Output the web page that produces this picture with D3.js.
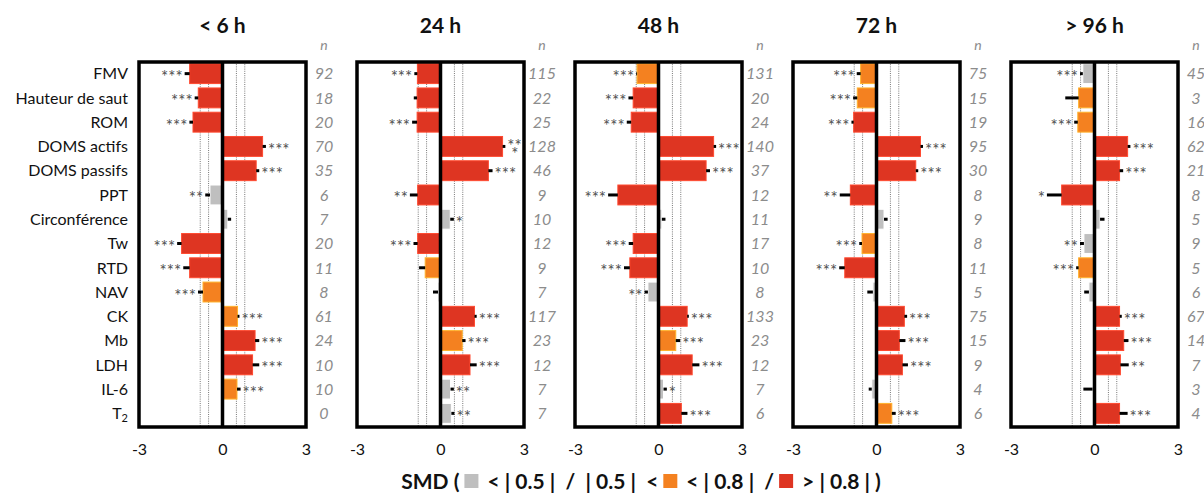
<!DOCTYPE html>
<html>
<head>
<meta charset="utf-8">
<script src="https://cdn.jsdelivr.net/npm/d3@7"></script>
<style>
  body { margin: 0; background: #fff; }
  svg { font-family: Lato, "Open Sans", sans-serif; }
</style>
</head>
<body>
<svg id="chart" width="1204" height="496"></svg>
<script>
// categories (rows) and time points (panels)
var categories = ["FMV", "Hauteur de saut", "ROM", "DOMS actifs", "DOMS passifs", "PPT", "Circonférence",
                  "Tw", "RTD", "NAV", "CK", "Mb", "LDH", "IL-6", "T2"];
var timepoints = ["< 6 h", "24 h", "48 h", "72 h", "> 96 h"];
var xTicks = [-3, 0, 3];
var guideLines = [-0.8, -0.5, 0.5, 0.8];

// SMD values, outer end of the error bar, significance stars and n, per time point
var smd6h   = [-1.18, -0.87, -1.06, 1.44, 1.21, -0.45, 0.19, -1.47, -1.18, -0.70, 0.54, 1.17, 1.08, 0.52, null];
var err6h   = [-1.36, -1.00, -1.19, 1.56, 1.32, -0.62, 0.31, -1.63, -1.41, -0.88, 0.61, 1.32, 1.32, 0.65, null];
var stars6h = ["***", "***", "***", "***", "***", "**", "", "***", "***", "***", "***", "***", "***", "***", ""];
var n6h     = [92, 18, 20, 70, 35, 6, 7, 20, 11, 8, 61, 24, 10, 10, 0];

var smd24h   = [-0.83, -0.84, -0.84, 2.23, 1.72, -0.82, 0.35, -0.82, -0.55, -0.09, 1.22, 0.78, 1.06, 0.36, 0.39];
var err24h   = [-0.94, -0.96, -1.02, 2.33, 1.87, -1.10, 0.48, -0.97, -0.77, -0.27, 1.30, 0.90, 1.30, 0.48, 0.50];
var stars24h = ["***", "", "***", "***", "***", "**", "*", "***", "", "", "***", "***", "***", "**", "**"];
var n24h     = [115, 22, 25, 128, 46, 9, 10, 12, 9, 7, 117, 23, 12, 7, 7];

var smd48h   = [-0.77, -0.91, -0.98, 1.98, 1.71, -1.46, 0.12, -0.91, -1.03, -0.38, 1.03, 0.62, 1.21, 0.18, 0.82];
var err48h   = [-0.80, -1.08, -1.14, 2.07, 1.85, -1.81, 0.25, -1.07, -1.24, -0.50, 1.09, 0.78, 1.47, 0.30, 1.04];
var stars48h = ["***", "***", "***", "***", "***", "***", "", "***", "***", "**", "***", "***", "***", "*", "***"];
var n48h     = [131, 20, 24, 140, 37, 12, 11, 17, 10, 8, 133, 23, 12, 7, 6];

var smd72h   = [-0.57, -0.69, -0.82, 1.58, 1.41, -0.94, 0.27, -0.52, -1.14, -0.13, 1.00, 0.82, 0.93, -0.17, 0.55];
var err72h   = [-0.71, -0.84, -0.90, 1.67, 1.50, -1.32, 0.40, -0.62, -1.34, -0.33, 1.10, 1.04, 1.13, -0.28, 0.69];
var stars72h = ["***", "***", "***", "***", "***", "**", "", "***", "***", "", "***", "***", "***", "", "***"];
var n72h     = [75, 15, 19, 95, 30, 8, 9, 8, 11, 5, 75, 15, 9, 4, 6];

var smd96h   = [-0.42, -0.57, -0.60, 1.19, 0.90, -1.18, 0.20, -0.38, -0.57, -0.20, 0.90, 1.05, 0.93, -0.07, 0.90];
var err96h   = [-0.52, -1.05, -0.73, 1.29, 1.03, -1.71, 0.36, -0.52, -0.66, -0.37, 0.98, 1.22, 1.23, -0.40, 1.19];
var stars96h = ["***", "", "***", "***", "***", "*", "", "**", "***", "", "***", "***", "**", "", "***"];
var n96h     = [45, 3, 16, 62, 21, 8, 5, 9, 5, 6, 67, 14, 7, 3, 4];

var panels = [
  { title: timepoints[0], smd: smd6h,  err: err6h,  stars: stars6h,  n: n6h },
  { title: timepoints[1], smd: smd24h, err: err24h, stars: stars24h, n: n24h },
  { title: timepoints[2], smd: smd48h, err: err48h, stars: stars48h, n: n48h },
  { title: timepoints[3], smd: smd72h, err: err72h, stars: stars72h, n: n72h },
  { title: timepoints[4], smd: smd96h, err: err96h, stars: stars96h, n: n96h }
];

var GREY = "#bfbfbf", ORANGE = "#f48120", RED = "#de3522";
function colorOf(v) {
  var a = Math.abs(v);
  return a < 0.5 ? GREY : (a < 0.8 ? ORANGE : RED);
}

var svg = d3.select("#chart");
var frameTop = 62, frameBottom = 427, panelW = 167;

var panelX = d3.scaleBand().domain(timepoints).range([139, 139 + 5 * 218]);
var y = d3.scaleBand().domain(categories).range([61.5, 425.5]).padding(0);
var barH = y.bandwidth() * 0.82;

// category labels
var labels = svg.append("g").attr("font-size", 16).attr("fill", "#111").attr("text-anchor", "end");
categories.forEach(function (c) {
  var t = labels.append("text").attr("x", 128).attr("y", y(c) + y.bandwidth() / 2).attr("dy", "0.36em");
  if (c === "T2") {
    t.text("T");
    t.append("tspan").attr("font-size", 11).attr("dy", "0.3em").text("2");
  } else {
    t.text(c);
  }
});

function starText(g, xs, ys, anchor, s) {
  return g.append("text")
    .attr("x", xs).attr("y", ys)
    .attr("text-anchor", anchor)
    .attr("font-size", 17).attr("fill", "#505050")
    .text(s);
}

panels.forEach(function (p) {
  var left = panelX(p.title);
  var x = d3.scaleLinear().domain([-3, 3]).range([left, left + panelW]);
  var g = svg.append("g");
  var rows = categories.map(function (c, i) {
    return { cat: c, smd: p.smd[i], err: p.err[i], stars: p.stars[i], n: p.n[i] };
  });

  // title
  g.append("text").attr("x", x(0)).attr("y", 33).attr("text-anchor", "middle")
    .attr("font-size", 21).attr("font-weight", "bold").attr("fill", "#111").text(p.title);

  // n header and counts
  g.append("text").attr("x", x(3) + 18).attr("y", 50).attr("text-anchor", "middle")
    .attr("font-size", 14).attr("font-style", "italic").attr("fill", "#8c8c8c").text("n");
  g.selectAll(".n").data(rows).enter().append("text")
    .attr("class", "n")
    .attr("x", x(3) + 18)
    .attr("y", function (d) { return y(d.cat) + y.bandwidth() / 2; })
    .attr("dy", "0.36em")
    .attr("text-anchor", "middle")
    .attr("font-size", 16).attr("font-style", "italic").attr("fill", "#8c8c8c")
    .text(function (d) { return d.n; });

  // dotted guide lines at |0.5| and |0.8|
  g.selectAll(".guide").data(guideLines).enter().append("line")
    .attr("x1", function (d) { return x(d); }).attr("x2", function (d) { return x(d); })
    .attr("y1", frameTop).attr("y2", frameBottom)
    .attr("stroke", "#555").attr("stroke-width", 0.8).attr("stroke-dasharray", "1,1.2");

  var data = rows.filter(function (d) { return d.smd !== null; });

  // bars
  g.selectAll(".bar").data(data).enter().append("rect")
    .attr("class", "bar")
    .attr("x", function (d) { return Math.min(x(0), x(d.smd)); })
    .attr("y", function (d) { return y(d.cat) + (y.bandwidth() - barH) / 2; })
    .attr("width", function (d) { return Math.abs(x(d.smd) - x(0)); })
    .attr("height", barH)
    .attr("fill", function (d) { return colorOf(d.smd); })
    .attr("stroke", function (d) { return d3.color(colorOf(d.smd)).brighter(0.9); })
    .attr("stroke-width", 1);

  // error bars
  g.selectAll(".err").data(data).enter().append("line")
    .attr("x1", function (d) { return x(d.smd); })
    .attr("x2", function (d) { return x(d.err); })
    .attr("y1", function (d) { return y(d.cat) + y.bandwidth() / 2; })
    .attr("y2", function (d) { return y(d.cat) + y.bandwidth() / 2; })
    .attr("stroke", "#000").attr("stroke-width", 3);

  // stars (wrapped onto two lines when they would cross the frame)
  data.filter(function (d) { return d.stars; }).forEach(function (d) {
    var pos = d.err >= 0;
    var xs = x(d.err) + (pos ? 2 : -2);
    var cy = y(d.cat) + y.bandwidth() / 2;
    var t = starText(g, xs, cy + 9.5, pos ? "start" : "end", d.stars);
    if (pos && xs + t.node().getComputedTextLength() > x(3) - 2) {
      t.text(d.stars.slice(0, -1)).attr("y", cy + 6);
      starText(g, xs + 4, cy + 13.5, "start", d.stars.slice(-1));
    }
  });

  // frame and zero line
  g.append("rect").attr("x", x(-3)).attr("y", frameTop).attr("width", x(3) - x(-3)).attr("height", frameBottom - frameTop)
    .attr("fill", "none").attr("stroke", "#000").attr("stroke-width", 3.5);
  g.append("line").attr("x1", x(0)).attr("x2", x(0)).attr("y1", frameTop).attr("y2", frameBottom)
    .attr("stroke", "#000").attr("stroke-width", 3.5);

  // x axis
  var axis = g.append("g").attr("transform", "translate(0," + (frameBottom + 17) + ")")
    .call(d3.axisBottom(x).tickValues(xTicks).tickSize(0).tickPadding(0)
      .tickFormat(function (d) { return String(d); }));
  axis.select(".domain").remove();
  axis.selectAll("text").attr("font-size", 16).attr("font-family", "Lato, sans-serif").attr("fill", "#111");
});

// legend
var legendItems = [
  { text: "SMD (" }, { box: GREY }, { text: "< | 0.5 |  /  | 0.5 |  <" }, { box: ORANGE },
  { text: "< | 0.8 |  /" }, { box: RED }, { text: "> | 0.8 | )" }
];
var lg = svg.append("g");
var cursor = 0, ly = 481;
legendItems.forEach(function (it) {
  if (it.box) {
    lg.append("rect").attr("x", cursor + 5).attr("y", ly - 7).attr("width", 14).attr("height", 14).attr("fill", it.box);
    cursor += 28;
  } else {
    var t = lg.append("text").attr("x", cursor).attr("y", ly).attr("dy", "0.36em")
      .attr("font-size", 21).attr("font-weight", "bold").attr("fill", "#111")
      .attr("xml:space", "preserve").style("white-space", "pre").text(it.text);
    cursor += t.node().getComputedTextLength();
  }
});
lg.attr("transform", "translate(" + (641 - cursor / 2) + ",0)");
</script>
</body>
</html>
